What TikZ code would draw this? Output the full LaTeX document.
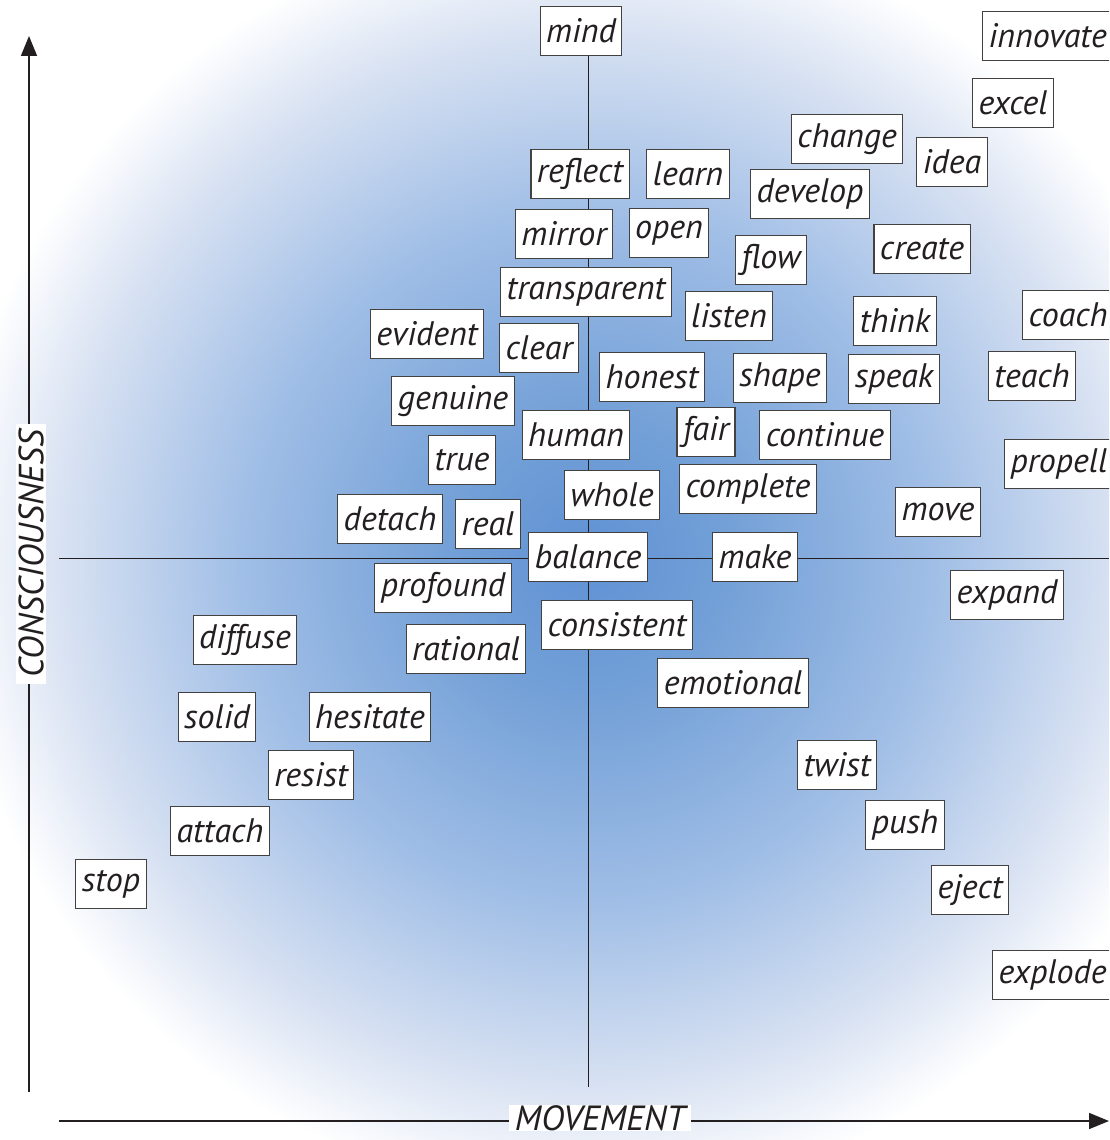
\documentclass[tikz,border=0pt]{standalone}
\usepackage{fontspec}
\setmainfont{PT Sans}
\usepackage{tikz}
\usetikzlibrary{%
  arrows.meta,%
  positioning,%
  backgrounds%
}
\definecolor{glowA}{RGB}{95,145,212}
\definecolor{glowB}{RGB}{115,160,215}
\definecolor{glowC}{RGB}{160,190,230}
\definecolor{glowD}{RGB}{215,225,242}
\definecolor{ink}{RGB}{35,31,32}
\pgfdeclareradialshading{glow}{\pgfpoint{0bp}{0bp}}{%
  color(0bp)=(glowA); color(5.5bp)=(glowB); color(13.5bp)=(glowC);%
  color(20.5bp)=(glowD); color(25bp)=(white); color(50bp)=(white)}
\tikzset{
  word/.style={draw=ink!85, line width=1.1pt, fill=white, text=ink,
    font=\itshape\fontsize{34}{36}\selectfont, inner xsep=6pt,
    minimum height=49pt},
  axis/.style={line width=1.6pt, ink, -{Triangle[length=20pt,width=16pt]}},
  axislabel/.style={fill=white, text=ink, inner xsep=6pt, inner ysep=0pt,
    font=\itshape\fontsize{35}{36}\selectfont},
  cross/.style={line width=1pt, ink}
}

\begin{document}
\begin{tikzpicture}[x=1pt, y=-1pt]
\useasboundingbox (0,0) rectangle (1109,1140);
\clip (0,0) rectangle (1109,1140);
\shade[shading=glow] (588,558) circle[radius=640pt];

\coordinate (top) at (588,56);
\coordinate (bottom) at (588,1087);
\coordinate (left) at (59,558);
\coordinate (right) at (1109,558);
\draw[cross] (top) -- (bottom);
\draw[cross] (left) -- (right);

\coordinate (vfoot) at (29,1092);
\coordinate (vtip) at (29,36);
\coordinate (hfoot) at (59,1121);
\coordinate (htip) at (1109,1121);
\draw[axis] (vfoot) -- (vtip);
\draw[axis] (hfoot) -- (htip);
\node[axislabel, rotate=90, inner ysep=2pt] (consciousness) at (31,554) {CONSCIOUSNESS};
\node[axislabel] (movement) at (600,1118) {MOVEMENT};

\node[word] (mind) at (581,31) {mind};
\node[word, anchor=west] (innovate) at (982,36) {innovate};
\node[word] (excel) at (1013,103) {excel};
\node[word] (change) at (847,139) {change};
\node[word] (idea) at (952,162) {idea};
\node[word] (reflect) at (580,174) {reflect};
\node[word] (learn) at (688,174) {learn};
\node[word] (develop) at (810,194) {develop};
\node[word] (mirror) at (564,234) {mirror};
\node[word] (open) at (669,233) {open};
\node[word] (create) at (922,249) {create};
\node[word] (flow) at (771,260) {flow};
\node[word] (transparent) at (586,292) {transparent};
\node[word] (listen) at (729,316) {listen};
\node[word] (think) at (895,321) {think};
\node[word, anchor=west] (coach) at (1022,315) {coach};
\node[word] (evident) at (427,334) {evident};
\node[word] (clear) at (539,348) {clear};
\node[word] (honest) at (652,377) {honest};
\node[word] (shape) at (780,378) {shape};
\node[word] (speak) at (894,379) {speak};
\node[word] (teach) at (1032,376) {teach};
\node[word] (genuine) at (453,401) {genuine};
\node[word] (human) at (576,435) {human};
\node[word] (fair) at (706,432) {fair};
\node[word] (continue) at (825,435) {continue};
\node[word] (true) at (462,460) {true};
\node[word, anchor=west] (propell) at (1004,464) {propell};
\node[word] (whole) at (612,495) {whole};
\node[word] (complete) at (748,489) {complete};
\node[word] (move) at (938,512) {move};
\node[word] (detach) at (390,519) {detach};
\node[word] (real) at (488,524) {real};
\node[word] (balance) at (588,557) {balance};
\node[word] (make) at (755,557) {make};
\node[word] (profound) at (443,588) {profound};
\node[word] (expand) at (1007,595) {expand};
\node[word] (consistent) at (617,625) {consistent};
\node[word] (diffuse) at (245,640) {diffuse};
\node[word] (rational) at (466,649) {rational};
\node[word] (emotional) at (733,683) {emotional};
\node[word] (solid) at (217,717) {solid};
\node[word] (hesitate) at (370,717) {hesitate};
\node[word] (twist) at (837,765) {twist};
\node[word] (resist) at (311,775) {resist};
\node[word] (push) at (905,825) {push};
\node[word] (attach) at (220,831) {attach};
\node[word] (stop) at (111,884) {stop};
\node[word] (eject) at (970,890) {eject};
\node[word, anchor=west] (explode) at (992,975) {explode};
\end{tikzpicture}
\end{document}
